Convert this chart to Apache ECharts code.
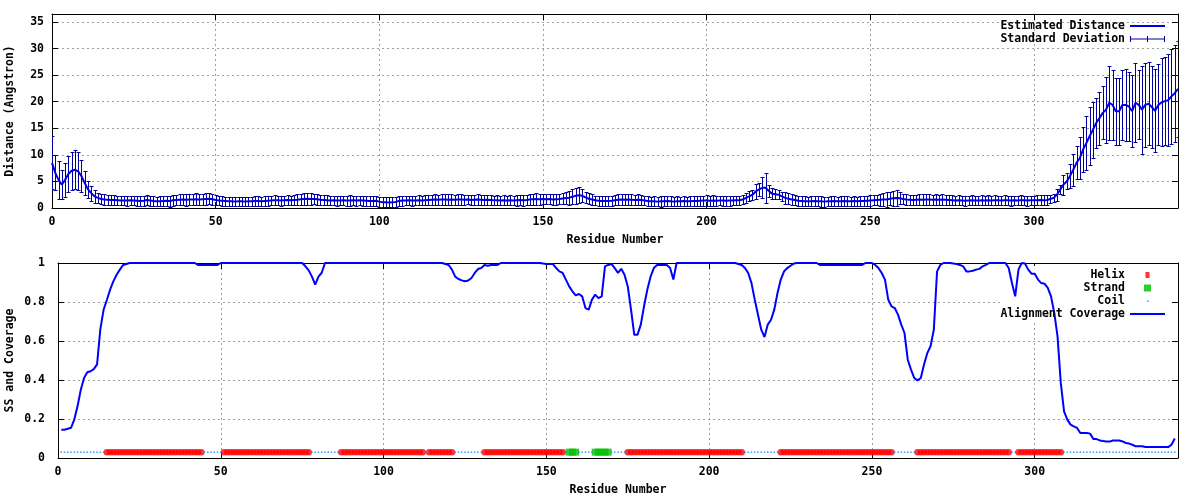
<!DOCTYPE html>
<html><head><meta charset="utf-8">
<script src="https://cdn.jsdelivr.net/npm/echarts@6/dist/echarts.min.js"></script>
<style>html,body{margin:0;padding:0;background:#fff}#c{width:1200px;height:500px}</style>
</head><body><div id="c"></div>
<script>
// ---- Data (top plot: residues 0..344) ----
const distance = [
8.5,6.6,5.3,4.4,5.3,6.4,7.0,7.2,6.9,6.0,
4.7,3.5,2.8,2.2,1.9,1.7,1.6,1.55,1.5,1.5,
1.45,1.4,1.4,1.4,1.45,1.4,1.35,1.3,1.35,1.5,
1.4,1.3,1.25,1.25,1.3,1.35,1.3,1.45,1.5,1.55,
1.6,1.55,1.6,1.6,1.65,1.6,1.65,1.7,1.75,1.65,
1.5,1.4,1.35,1.3,1.25,1.25,1.2,1.25,1.25,1.2,
1.25,1.25,1.3,1.3,1.25,1.3,1.35,1.4,1.45,1.45,
1.4,1.45,1.5,1.45,1.5,1.55,1.65,1.7,1.75,1.7,
1.7,1.65,1.55,1.5,1.45,1.4,1.45,1.4,1.4,1.45,
1.4,1.4,1.45,1.4,1.45,1.4,1.35,1.3,1.3,1.35,
1.2,1.1,1.1,1.05,1.1,1.15,1.3,1.4,1.4,1.45,
1.4,1.4,1.45,1.4,1.45,1.5,1.55,1.6,1.55,1.6,
1.6,1.55,1.6,1.55,1.6,1.6,1.55,1.6,1.5,1.55,
1.6,1.55,1.5,1.55,1.5,1.45,1.45,1.4,1.45,1.4,
1.45,1.4,1.45,1.5,1.45,1.5,1.6,1.65,1.7,1.65,
1.7,1.65,1.7,1.6,1.65,1.7,1.8,1.9,1.95,2.1,
2.3,2.4,2.3,2.0,1.75,1.6,1.45,1.35,1.3,1.3,
1.3,1.35,1.45,1.55,1.6,1.55,1.6,1.55,1.5,1.55,
1.5,1.4,1.3,1.25,1.25,1.2,1.25,1.25,1.3,1.25,
1.2,1.25,1.25,1.3,1.25,1.25,1.3,1.3,1.35,1.4,
1.4,1.35,1.4,1.35,1.4,1.4,1.35,1.4,1.4,1.45,
1.45,1.6,1.9,2.2,2.5,3.1,3.5,3.8,3.8,3.2,
2.7,2.6,2.5,2.2,1.9,1.75,1.6,1.5,1.35,1.3,
1.25,1.25,1.25,1.3,1.25,1.25,1.2,1.25,1.25,1.3,
1.25,1.25,1.3,1.25,1.25,1.3,1.25,1.3,1.3,1.35,
1.4,1.45,1.5,1.55,1.6,1.6,1.75,1.85,1.9,1.85,
1.7,1.6,1.55,1.5,1.55,1.6,1.55,1.6,1.6,1.55,
1.6,1.55,1.6,1.55,1.5,1.45,1.4,1.45,1.4,1.35,
1.4,1.45,1.4,1.4,1.45,1.4,1.45,1.4,1.45,1.45,
1.4,1.45,1.45,1.4,1.45,1.4,1.45,1.45,1.4,1.45,
1.45,1.45,1.5,1.45,1.5,1.7,1.9,2.5,3.45,4.4,
5.0,6.0,7.2,8.5,9.4,11.0,12.2,13.5,14.7,16.0,
16.9,17.9,18.5,19.8,19.4,18.2,18.2,19.4,19.4,19.1,
18.2,19.8,19.4,18.5,19.4,19.6,19.0,18.3,19.4,19.9,
20.1,20.3,21.0,21.6,22.4
];
const stdDev = [
5.0,3.3,3.6,2.8,3.2,3.4,3.6,3.7,3.6,3.0,
2.2,1.6,1.4,1.2,1.0,1.0,0.95,0.9,0.9,0.95,
0.9,0.85,0.9,0.95,0.9,0.85,0.9,0.9,0.95,1.0,
0.95,0.9,0.9,0.95,1.0,0.95,1.05,1.0,0.95,1.0,
1.05,1.1,1.0,1.05,1.1,1.05,1.0,1.05,1.0,1.0,
0.95,0.9,0.9,0.85,0.9,0.9,0.85,0.9,0.85,0.9,
0.9,0.85,0.9,0.95,0.9,0.9,0.95,0.9,0.95,0.9,
0.95,0.9,0.95,0.9,0.95,1.0,1.0,1.1,1.15,1.05,
1.0,1.0,0.95,0.9,0.95,0.9,0.9,0.95,0.9,0.9,
0.95,1.0,0.9,0.95,0.9,0.95,1.0,0.9,0.95,1.0,
0.95,0.9,0.9,0.95,0.9,0.95,0.9,0.95,0.9,0.9,
0.95,0.9,0.95,0.9,0.95,0.9,0.95,1.0,0.95,1.0,
0.95,1.0,0.95,0.9,0.95,1.0,0.95,0.9,0.95,0.9,
0.95,0.9,0.95,0.9,0.95,0.9,0.95,0.9,0.95,0.9,
0.95,0.9,1.0,0.95,1.0,0.95,1.0,1.0,1.05,1.0,
1.0,0.95,1.0,1.05,1.0,0.95,1.0,1.1,1.3,1.4,
1.5,1.55,1.2,1.1,1.0,0.95,0.9,0.9,0.95,0.9,
0.95,1.0,0.95,1.0,1.05,1.0,0.95,1.0,0.95,1.0,
0.95,0.9,0.95,0.9,0.95,0.9,1.0,0.95,0.9,0.95,
0.9,0.95,0.9,0.95,0.9,0.95,1.0,0.95,0.9,0.95,
1.0,0.95,1.0,0.95,0.9,0.95,0.9,0.95,0.9,0.9,
0.9,0.9,0.9,0.95,0.95,1.5,1.2,2.0,2.8,1.2,
1.05,0.9,0.8,0.9,1.2,1.05,0.95,0.9,0.95,0.9,
0.95,0.9,0.95,0.9,0.95,1.0,0.95,0.9,0.95,0.9,
0.9,0.95,0.9,0.95,0.9,0.95,0.9,0.95,1.0,0.95,
1.0,0.95,1.0,1.1,1.2,1.5,1.2,1.4,1.55,1.15,
1.0,1.0,0.95,1.0,0.95,1.0,1.0,0.95,1.0,0.95,
1.0,0.95,1.0,0.95,0.9,0.95,0.9,0.95,0.9,0.95,
0.9,0.95,0.9,0.9,0.95,0.9,0.95,0.9,0.95,0.9,
0.9,0.95,0.9,0.95,0.9,0.9,0.95,0.9,0.95,0.9,
0.9,0.95,0.9,0.95,0.9,0.8,0.8,1.1,0.9,1.9,
1.5,2.2,3.0,3.1,4.0,4.2,5.1,5.5,5.3,4.7,
5.0,5.0,6.2,7.0,6.6,6.3,6.3,6.6,6.8,6.5,
6.8,7.4,6.5,8.3,7.9,7.8,7.8,7.8,7.6,8.3,
8.3,8.6,8.9,9.1,9.0
];
// ---- Data (bottom plot: residues 1..343) ----
const coverage = [
0.145,0.145,0.15,0.155,0.197,0.265,0.35,0.41,0.44,0.445,
0.456,0.48,0.66,0.76,0.81,0.863,0.906,0.94,0.966,0.99,
0.995,1,1,1,1,1,1,1,1,1,
1,1,1,1,1,1,1,1,1,1,
1,1,0.99,0.99,0.99,0.99,0.99,0.99,0.99,1,
1,1,1,1,1,1,1,1,1,1,
1,1,1,1,1,1,1,1,1,1,
1,1,1,1,1,0.983,0.962,0.93,0.889,0.93,
0.95,1,1,1,1,1,1,1,1,1,
1,1,1,1,1,1,1,1,1,1,
1,1,1,1,1,1,1,1,1,1,
1,1,1,1,1,1,1,1,0.995,0.99,
0.966,0.93,0.918,0.911,0.906,0.91,0.923,0.949,0.969,0.974,
0.99,0.986,0.99,0.99,0.99,1,1,1,1,1,
1,1,1,1,1,1,1,1,0.997,0.995,
0.995,0.995,0.974,0.957,0.949,0.915,0.88,0.855,0.834,0.841,
0.829,0.769,0.761,0.812,0.838,0.82,0.829,0.983,0.99,0.995,
0.974,0.949,0.97,0.94,0.88,0.761,0.632,0.632,0.684,0.778,
0.863,0.93,0.974,0.99,0.99,0.99,0.99,0.974,0.915,1,
1,1,1,1,1,1,1,1,1,1,
1,1,1,1,1,1,1,1,0.995,0.99,
0.974,0.949,0.897,0.812,0.735,0.658,0.62,0.684,0.709,0.761,
0.846,0.915,0.957,0.974,0.986,0.997,1,1,1,1,
1,1,1,0.99,0.99,0.99,0.99,0.99,0.99,0.99,
0.99,0.99,0.99,0.99,0.99,0.99,0.99,1,1,1,
0.99,0.974,0.949,0.915,0.812,0.778,0.769,0.735,0.684,0.641,
0.504,0.453,0.41,0.398,0.41,0.479,0.538,0.573,0.658,0.957,
0.99,1,1,1,0.997,0.995,0.99,0.983,0.957,0.957,
0.96,0.966,0.97,0.983,0.99,1,1,1,1,1,
1,0.974,0.897,0.829,0.966,1,0.997,0.966,0.945,0.945,
0.915,0.897,0.894,0.872,0.829,0.744,0.624,0.385,0.239,0.197,
0.171,0.162,0.154,0.128,0.128,0.128,0.125,0.097,0.097,0.09,
0.087,0.085,0.084,0.09,0.09,0.09,0.085,0.077,0.074,0.068,
0.06,0.06,0.06,0.056,0.056,0.056,0.056,0.056,0.056,0.056,
0.056,0.068,0.1
];
const helixRanges = [[15,44],[51,77],[87,112],[114,121],[131,155],[175,210],[222,256],[264,292],[295,308]];
const strandRanges = [[157,159],[165,169]];
const ssResidueCount = 343;
const ssLevel = 0.03;
const xTicks = [0, 50, 100, 150, 200, 250, 300];
const distTicks = [0, 5, 10, 15, 20, 25, 30, 35];
const covTicks = [0, 0.2, 0.4, 0.6, 0.8, 1];

// ---- Build series data ----
const distPoints = distance.map((v, i) => [i, v]);
const errPoints = distance.map((v, i) => [i, v - stdDev[i], v + stdDev[i]]);
const covPoints = coverage.map((v, i) => [i + 1, v]);
const inRanges = (r, rs) => rs.some(([a, b]) => r >= a && r <= b);
const helixPts = [], strandPts = [], coilPts = [];
for (let r = 1; r <= ssResidueCount; r++) {
  if (inRanges(r, helixRanges)) helixPts.push([r, ssLevel]);
  else if (inRanges(r, strandRanges)) strandPts.push([r, ssLevel]);
  else coilPts.push([r, ssLevel]);
}

const FONT = 'DejaVu Sans Mono';
const ERR_COLOR = '#00009c';
const txt = {fontFamily: FONT, fontWeight: 'bold', fontSize: 11.5, color: '#000'};
const gridLine = {show: true, lineStyle: {color: '#a0a0a0', type: [2, 3], width: 1}};
const axLine = {show: true, onZero: false, lineStyle: {color: '#000', width: 1}};
const tick = {show: true, inside: true, length: 6, lineStyle: {color: '#000', width: 1}};
const fmt = ticks => v => (ticks.some(t => Math.abs(t - v) < 1e-9) ? String(+v.toFixed(2)) : '');

function xAx(grid, pos, max, name) {
  const mirror = pos === 'top';
  return {type: 'value', gridIndex: grid, position: pos, min: 0, max: max, interval: 50,
    axisLine: axLine, axisTick: tick,
    axisLabel: mirror ? {show: false} : Object.assign({margin: 8, hideOverlap: false, formatter: fmt(xTicks)}, txt),
    splitLine: mirror ? {show: false} : gridLine,
    name: mirror ? '' : name, nameLocation: 'middle', nameGap: 26, nameMoveOverlap: false, nameTextStyle: txt};
}
function yAx(grid, pos, min, max, interval, ticks, name, margin, gap) {
  const mirror = pos === 'right';
  return {type: 'value', gridIndex: grid, position: pos, min: min, max: max, interval: interval,
    axisLine: axLine, axisTick: tick,
    axisLabel: mirror ? {show: false} : Object.assign({margin: margin, hideOverlap: false, formatter: fmt(ticks)}, txt),
    splitLine: mirror ? {show: false} : gridLine,
    name: mirror ? '' : name, nameLocation: 'middle', nameGap: gap, nameRotate: 90, nameMoveOverlap: false, nameTextStyle: txt};
}

const lineIcon = 'path://M0,0M35,12M0,5h35v2h-35z';
const errIcon = 'path://M0,0M35,12M0,5.5h35v1h-35zM0,3h1v6h-1zM17,3h1v6h-1zM34,3h1v6h-1z';
const helixIcon = 'path://M0,0M35,12M15.5,3h4v6h-4z';
const strandIcon = 'path://M0,0M35,12M14,2.5h7v7h-7z';
const coilIcon = 'path://M0,0M35,12M17,5.5h1.5v1.5h-1.5z';
function leg(name, icon, color, top) {
  return {data: [{name: name, icon: icon, itemStyle: {color: color, borderWidth: 0}}],
    right: 35, top: top, align: 'right', orient: 'vertical', itemWidth: 35, itemHeight: 12,
    selectedMode: false, textStyle: txt, padding: 0};
}

const chart = echarts.init(document.getElementById('c'), null, {renderer: 'canvas'});
chart.setOption({
  animation: false,
  backgroundColor: '#fff',
  grid: [
    {left: 52, right: 22, top: 14, height: 194, outerBoundsMode: 'none', containLabel: false},
    {left: 58, right: 22, top: 263, height: 195, outerBoundsMode: 'none', containLabel: false}
  ],
  xAxis: [
    xAx(0, 'bottom', 344, 'Residue Number'),
    xAx(0, 'top', 344),
    xAx(1, 'bottom', 344, 'Residue Number'),
    xAx(1, 'top', 344)
  ],
  yAxis: [
    yAx(0, 'left', 0, 36.5, 5, distTicks, 'Distance (Angstron)', 8, 36),
    yAx(0, 'right', 0, 36.5, 5, distTicks),
    yAx(1, 'left', 0, 1, 0.2, covTicks, 'SS and Coverage', 13, 42),
    yAx(1, 'right', 0, 1, 0.2, covTicks)
  ],
  legend: [
    leg('Estimated Distance', lineIcon, '#0000e6', 20),
    leg('Standard Deviation', errIcon, ERR_COLOR, 33),
    leg('Helix', helixIcon, '#ff0000', 269),
    leg('Strand', strandIcon, '#00c000', 282),
    leg('Coil', coilIcon, '#0080ff', 295),
    leg('Alignment Coverage', lineIcon, '#0000ff', 308)
  ],
  graphic: [
    {type: 'rect', z: 1, silent: true, shape: {x: 1000, y: 266, width: 171, height: 56}, style: {fill: '#fff'}}
  ],
  series: [
    {name: 'Standard Deviation', type: 'custom', xAxisIndex: 0, yAxisIndex: 0, clip: true, silent: true,
      itemStyle: {color: ERR_COLOR},
      data: errPoints,
      encode: {x: 0, y: [1, 2]},
      renderItem: function (params, api) {
        const x = api.value(0), lo = api.value(1), hi = api.value(2);
        const p1 = api.coord([x, hi]), p2 = api.coord([x, lo]);
        const px = Math.round(p1[0]) + 0.5;
        const yt = Math.round(p1[1]) + 0.5, yb = Math.round(p2[1]) + 0.5;
        const hw = 2;
        const st = {stroke: ERR_COLOR, lineWidth: 1, fill: null};
        return {type: 'group', children: [
          {type: 'line', shape: {x1: px, y1: yt, x2: px, y2: yb}, style: st},
          {type: 'line', shape: {x1: px - hw, y1: yt, x2: px + hw, y2: yt}, style: st},
          {type: 'line', shape: {x1: px - hw, y1: yb, x2: px + hw, y2: yb}, style: st}
        ]};
      }
    },
    {name: 'Estimated Distance', type: 'line', xAxisIndex: 0, yAxisIndex: 0, data: distPoints,
      showSymbol: false, silent: true, lineStyle: {color: '#0000e6', width: 2}, itemStyle: {color: '#0000e6'}},
    {name: 'Helix', type: 'scatter', xAxisIndex: 2, yAxisIndex: 2, data: helixPts, symbol: 'circle',
      symbolSize: 6.5, silent: true, itemStyle: {color: '#ff0000'}},
    {name: 'Strand', type: 'scatter', xAxisIndex: 2, yAxisIndex: 2, data: strandPts, symbol: 'rect',
      symbolSize: 7, silent: true, itemStyle: {color: '#00c000'}},
    {name: 'Coil', type: 'scatter', xAxisIndex: 2, yAxisIndex: 2, data: coilPts, symbol: 'rect',
      symbolSize: 1.5, silent: true, itemStyle: {color: '#0080ff'}},
    {name: 'Alignment Coverage', type: 'line', xAxisIndex: 2, yAxisIndex: 2, data: covPoints,
      showSymbol: false, silent: true, lineStyle: {color: '#0000ff', width: 2}, itemStyle: {color: '#0000ff'}}
  ]
});
</script>
</body></html>
